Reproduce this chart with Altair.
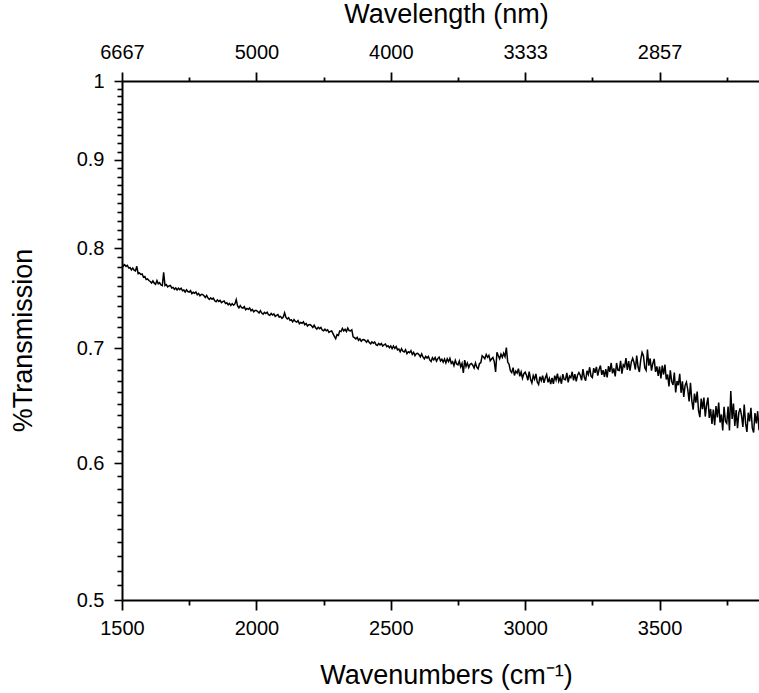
import altair as alt
import pandas as pd

# Wavenumber grid (cm^-1) and %Transmission
wavenumbers = list(range(1500, 3871, 5))
transmission = [
    # 1500-1545
    0.7832, 0.7810, 0.7825, 0.7807, 0.7817, 0.7790, 0.7793, 0.7770, 0.7789, 0.7768,
    # 1550-1595
    0.7760, 0.7808, 0.7731, 0.7738, 0.7723, 0.7729, 0.7695, 0.7702, 0.7671, 0.7678,
    # 1600-1645
    0.7661, 0.7651, 0.7636, 0.7656, 0.7634, 0.7622, 0.7660, 0.7627, 0.7639, 0.7615,
    # 1650-1695
    0.7608, 0.7745, 0.7610, 0.7620, 0.7596, 0.7605, 0.7610, 0.7585, 0.7591, 0.7572,
    # 1700-1745
    0.7585, 0.7565, 0.7583, 0.7568, 0.7582, 0.7557, 0.7564, 0.7544, 0.7567, 0.7549,
    # 1750-1795
    0.7544, 0.7558, 0.7528, 0.7541, 0.7532, 0.7545, 0.7517, 0.7530, 0.7506, 0.7519,
    # 1800-1845
    0.7519, 0.7507, 0.7490, 0.7509, 0.7484, 0.7470, 0.7486, 0.7472, 0.7482, 0.7456,
    # 1850-1895
    0.7447, 0.7465, 0.7450, 0.7461, 0.7437, 0.7448, 0.7454, 0.7429, 0.7436, 0.7417,
    # 1900-1945
    0.7430, 0.7410, 0.7428, 0.7412, 0.7425, 0.7468, 0.7406, 0.7386, 0.7408, 0.7389,
    # 1950-1995
    0.7384, 0.7398, 0.7368, 0.7381, 0.7372, 0.7385, 0.7358, 0.7371, 0.7347, 0.7360,
    # 2000-2045
    0.7360, 0.7350, 0.7336, 0.7358, 0.7335, 0.7324, 0.7342, 0.7331, 0.7343, 0.7320,
    # 2050-2095
    0.7313, 0.7331, 0.7316, 0.7327, 0.7303, 0.7313, 0.7320, 0.7295, 0.7302, 0.7283,
    # 2100-2145
    0.7296, 0.7338, 0.7293, 0.7277, 0.7290, 0.7264, 0.7270, 0.7250, 0.7272, 0.7253,
    # 2150-2195
    0.7247, 0.7261, 0.7231, 0.7244, 0.7236, 0.7249, 0.7221, 0.7234, 0.7210, 0.7222,
    # 2200-2245
    0.7223, 0.7212, 0.7196, 0.7216, 0.7193, 0.7180, 0.7197, 0.7184, 0.7196, 0.7171,
    # 2250-2295
    0.7163, 0.7179, 0.7164, 0.7173, 0.7149, 0.7158, 0.7162, 0.7136, 0.7110, 0.7088,
    # 2300-2345
    0.7126, 0.7119, 0.7162, 0.7156, 0.7186, 0.7162, 0.7177, 0.7156, 0.7189, 0.7166,
    # 2350-2395
    0.7162, 0.7172, 0.7106, 0.7098, 0.7086, 0.7100, 0.7073, 0.7087, 0.7064, 0.7078,
    # 2400-2445
    0.7080, 0.7070, 0.7054, 0.7074, 0.7052, 0.7040, 0.7057, 0.7045, 0.7057, 0.7032,
    # 2450-2495
    0.7025, 0.7044, 0.7030, 0.7042, 0.7019, 0.7031, 0.7038, 0.7014, 0.7022, 0.7004,
    # 2500-2545
    0.7020, 0.6994, 0.7018, 0.6997, 0.7015, 0.6983, 0.6991, 0.6965, 0.6994, 0.6970,
    # 2550-2595
    0.6964, 0.6985, 0.6948, 0.6966, 0.6957, 0.6976, 0.6941, 0.6960, 0.6930, 0.6949,
    # 2600-2645
    0.6952, 0.6938, 0.6918, 0.6945, 0.6915, 0.6899, 0.6923, 0.6907, 0.6922, 0.6890,
    # 2650-2695
    0.6876, 0.6910, 0.6891, 0.6913, 0.6879, 0.6902, 0.6916, 0.6880, 0.6896, 0.6870,
    # 2700-2745
    0.6898, 0.6862, 0.6901, 0.6874, 0.6904, 0.6859, 0.6874, 0.6838, 0.6886, 0.6853,
    # 2750-2795
    0.6845, 0.6879, 0.6827, 0.6858, 0.6771, 0.6889, 0.6829, 0.6861, 0.6820, 0.6851,
    # 2800-2845
    0.6857, 0.6841, 0.6816, 0.6863, 0.6824, 0.6808, 0.6857, 0.6864, 0.6929, 0.6917,
    # 2850-2895
    0.6901, 0.6940, 0.6914, 0.6933, 0.6882, 0.6899, 0.6913, 0.6875, 0.6780, 0.6960,
    # 2900-2945
    0.6929, 0.6901, 0.6943, 0.6914, 0.6952, 0.6920, 0.7005, 0.6870, 0.6851, 0.6791,
    # 2950-2995
    0.6774, 0.6820, 0.6749, 0.6788, 0.6771, 0.6810, 0.6741, 0.6780, 0.6724, 0.6764,
    # 3000-3045
    0.6778, 0.6750, 0.6706, 0.6783, 0.6715, 0.6682, 0.6748, 0.6715, 0.6762, 0.6689,
    # 3050-3095
    0.6667, 0.6737, 0.6702, 0.6747, 0.6682, 0.6727, 0.6757, 0.6687, 0.6722, 0.6672,
    # 3100-3145
    0.6727, 0.6674, 0.6746, 0.6707, 0.6764, 0.6696, 0.6728, 0.6674, 0.6761, 0.6713,
    # 3150-3195
    0.6710, 0.6771, 0.6686, 0.6742, 0.6728, 0.6782, 0.6704, 0.6761, 0.6696, 0.6753,
    # 3200-3245
    0.6775, 0.6750, 0.6706, 0.6806, 0.6733, 0.6701, 0.6790, 0.6758, 0.6823, 0.6743,
    # 3250-3295
    0.6730, 0.6814, 0.6772, 0.6826, 0.6748, 0.6802, 0.6838, 0.6754, 0.6796, 0.6736,
    # 3300-3345
    0.6805, 0.6732, 0.6833, 0.6781, 0.6862, 0.6768, 0.6813, 0.6740, 0.6862, 0.6796,
    # 3350-3395
    0.6793, 0.6881, 0.6765, 0.6845, 0.6827, 0.6907, 0.6798, 0.6879, 0.6791, 0.6871,
    # 3400-3445
    0.6905, 0.6866, 0.6802, 0.6931, 0.6827, 0.6780, 0.6893, 0.6960, 0.6929, 0.6817,
    # 3450-3495
    0.6794, 0.6985, 0.6837, 0.6903, 0.6792, 0.6858, 0.6899, 0.6781, 0.6830, 0.6744,
    # 3500-3545
    0.6829, 0.6721, 0.6838, 0.6757, 0.6847, 0.6712, 0.6757, 0.6650, 0.6794, 0.6695,
    # 3550-3595
    0.6663, 0.6775, 0.6597, 0.6699, 0.6661, 0.6763, 0.6594, 0.6696, 0.6558, 0.6660,
    # 3600-3645
    0.6688, 0.6621, 0.6519, 0.6682, 0.6526, 0.6447, 0.6587, 0.6508, 0.6605, 0.6438,
    # 3650-3695
    0.6383, 0.6543, 0.6451, 0.6552, 0.6388, 0.6488, 0.6552, 0.6377, 0.6453, 0.6325,
    # 3700-3745
    0.6449, 0.6314, 0.6479, 0.6380, 0.6509, 0.6337, 0.6406, 0.6271, 0.6472, 0.6349,
    # 3750-3795
    0.6331, 0.6475, 0.6271, 0.6610, 0.6368, 0.6500, 0.6309, 0.6443, 0.6290, 0.6422,
    # 3800-3845
    0.6459, 0.6397, 0.6300, 0.6492, 0.6332, 0.6258, 0.6421, 0.6347, 0.6463, 0.6292,
    # 3850-3870
    0.6254, 0.6418, 0.6330, 0.6434, 0.6273,
]

x_major = [1500, 2000, 2500, 3000, 3500]
x_minor = [1750, 2250, 2750, 3250, 3750]
y_major = [0.5, 0.6, 0.7, 0.8, 0.9, 1.0]
y_minor = [round(0.5 + i * 0.01, 2) for i in range(1, 50) if i % 10 != 0]

df = pd.DataFrame({"wn": wavenumbers, "T": transmission})
df["wn_top"] = df["wn"]

FONT = "Liberation Sans"
X_DOMAIN = [1500, 3870]
x_test = "datum.value % 500 == 0"
y_test = "abs(datum.value * 10 - round(datum.value * 10)) < 0.001"

x_scale = alt.Scale(domain=X_DOMAIN, nice=False, zero=False)
y_scale = alt.Scale(type="log", domain=[0.5, 1.0], nice=False)

common_axis = dict(
    labelFont=FONT, labelFontSize=20, labelColor="black",
    titleFont=FONT, titleFontSize=27, titleFontWeight="normal", titleColor="black",
    domainColor="black", domainWidth=2, tickColor="black",
    labelOverlap=False, labelFlush=False, grid=False,
)

bottom_axis = alt.Axis(
    values=sorted(x_major + x_minor),
    labelExpr=f"{x_test} ? format(datum.value, 'd') : ''",
    tickSize={"condition": {"test": x_test, "value": 10}, "value": 5},
    tickWidth=1.8, labelPadding=8,
    title="Wavenumbers (cm⁻¹)", titleX=324, titleY=83,
    titleAlign="center", titleBaseline="alphabetic",
    **common_axis,
)

top_axis = alt.Axis(
    orient="top",
    values=sorted(x_major + x_minor),
    labelExpr=f"{x_test} ? format(1e7 / datum.value, '.0f') : ''",
    tickSize={"condition": {"test": x_test, "value": 9}, "value": 4},
    tickWidth=1.8, labelPadding=10,
    title="Wavelength (nm)", titleX=324, titleY=-59,
    titleAlign="center", titleBaseline="alphabetic",
    **common_axis,
)


def left_axis():
    return alt.Axis(
        orient="left",
        values=sorted(y_major + y_minor),
        labelExpr=f"{y_test} ? format(datum.value, '~g') : ''",
        tickSize={"condition": {"test": y_test, "value": 8}, "value": 5},
        tickWidth=1.6, labelPadding=10,
        title="%Transmission", titleX=-99, titleY=259,
        titleAngle=270, titleAlign="center", titleBaseline="middle",
        **common_axis,
    )


line = alt.Chart(df).mark_line(color="black", strokeWidth=1.5, clip=True).encode(
    x=alt.X("wn:Q", scale=x_scale, axis=bottom_axis),
    y=alt.Y("T:Q", scale=y_scale, axis=left_axis()),
)

top = alt.Chart(df).mark_line(opacity=0, clip=True).encode(
    x=alt.X("wn_top:Q", scale=x_scale, axis=top_axis),
    y=alt.Y("T:Q", scale=y_scale, axis=left_axis()),
)

chart = (
    alt.layer(line, top)
    .resolve_scale(x="independent", y="shared")
    .resolve_axis(y="shared")
    .properties(
        width=637, height=519,
        autosize=alt.AutoSizeParams(type="none"),
        padding={"left": 122, "top": 81, "right": 0, "bottom": 93},
        background="white",
    )
    .configure_view(stroke=None)
)

chart.save("out.html", embed_options={"renderer": "svg", "actions": False})
